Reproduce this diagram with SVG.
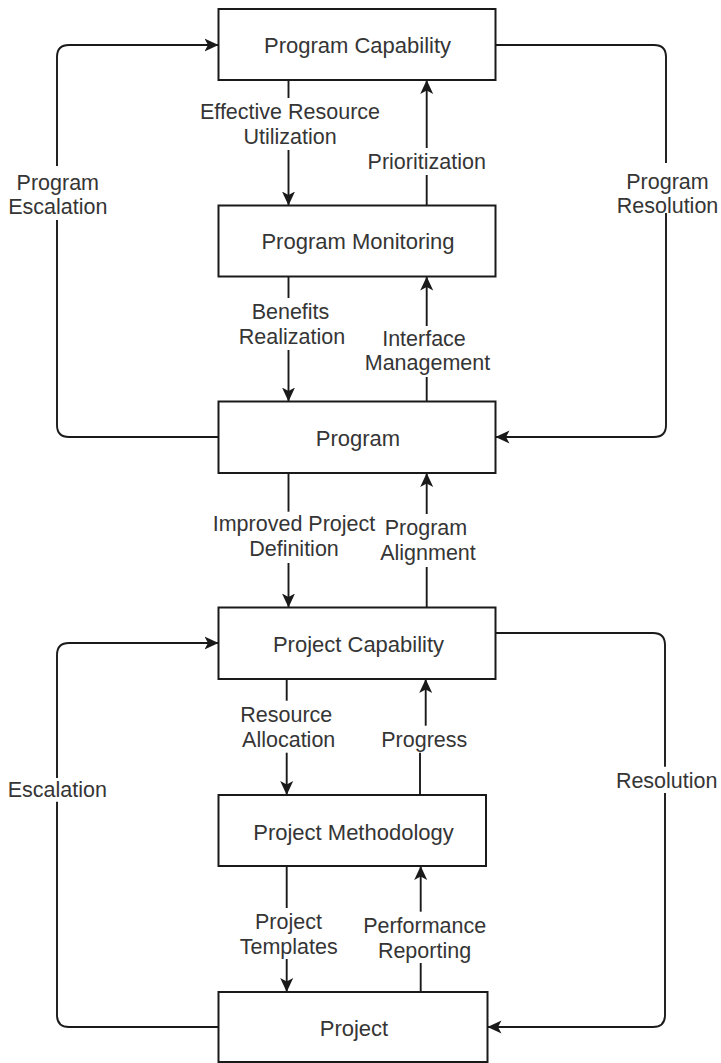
<svg xmlns="http://www.w3.org/2000/svg" width="721" height="1063" viewBox="0 0 721 1063">
  <style>
    .box { fill: #ffffff; stroke: #1a1a1a; stroke-width: 2; }
    .node-text { font-family: "Liberation Sans", Arial, sans-serif; font-size: 22px; fill: #353535; text-anchor: middle; }
    .edge { fill: none; stroke: #1a1a1a; stroke-width: 1.9; }
    .label { font-family: "Liberation Sans", Arial, sans-serif; font-size: 21.5px; fill: #353535; text-anchor: middle; }
  </style>
  <defs>
    <marker id="arrow" markerUnits="userSpaceOnUse" viewBox="0 0 14 14" refX="14" refY="7" markerWidth="14" markerHeight="14" orient="auto">
      <path d="M0,0.5 L14,7 L0,13.5 L3.5,7 Z" fill="#1a1a1a"/>
    </marker>
  </defs>

  <rect width="721" height="1063" fill="#ffffff"/>

  <!-- connectors (segments are broken where their labels sit) -->
  <g id="connectors">
    <!-- Program Capability -> Program Monitoring -->
    <path class="edge" d="M288.5,80 V98"/>
    <path class="edge" d="M288.5,150 V205.5" marker-end="url(#arrow)"/>
    <text class="label" x="290" y="119.3">Effective Resource</text>
    <text class="label" x="290" y="143.8">Utilization</text>

    <!-- Program Monitoring -> Program Capability -->
    <path class="edge" d="M426.7,205.5 V175"/>
    <path class="edge" d="M426.7,148 V80" marker-end="url(#arrow)"/>
    <text class="label" x="426.7" y="169.3">Prioritization</text>

    <!-- Program Monitoring -> Program -->
    <path class="edge" d="M288.5,276.5 V298"/>
    <path class="edge" d="M288.5,350 V401.5" marker-end="url(#arrow)"/>
    <text class="label" x="290.5" y="319.3">Benefits</text>
    <text class="label" x="292" y="344.3">Realization</text>

    <!-- Program -> Program Monitoring -->
    <path class="edge" d="M426.7,401.5 V377"/>
    <path class="edge" d="M426.7,326 V276.5" marker-end="url(#arrow)"/>
    <text class="label" x="424" y="345.6">Interface</text>
    <text class="label" x="427.5" y="370.3">Management</text>

    <!-- Program -> Project Capability -->
    <path class="edge" d="M288.5,473 V511.7"/>
    <path class="edge" d="M288.5,563 V607.5" marker-end="url(#arrow)"/>
    <text class="label" x="294" y="530.6">Improved Project</text>
    <text class="label" x="294" y="555.6">Definition</text>

    <!-- Project Capability -> Program -->
    <path class="edge" d="M426.7,607.5 V567"/>
    <path class="edge" d="M426.7,514 V473" marker-end="url(#arrow)"/>
    <text class="label" x="426" y="534.6">Program</text>
    <text class="label" x="428" y="559.6">Alignment</text>

    <!-- Project Capability -> Project Methodology -->
    <path class="edge" d="M286.7,679 V700.7"/>
    <path class="edge" d="M286.7,752.7 V795" marker-end="url(#arrow)"/>
    <text class="label" x="286.3" y="721.6">Resource</text>
    <text class="label" x="288.7" y="746.6">Allocation</text>

    <!-- Project Methodology -> Project Capability -->
    <path class="edge" d="M420,795 V752.7"/>
    <path class="edge" d="M425.7,725.7 V679" marker-end="url(#arrow)"/>
    <text class="label" x="424.3" y="746.6">Progress</text>

    <!-- Project Methodology -> Project -->
    <path class="edge" d="M286.7,866 V908"/>
    <path class="edge" d="M286.7,959 V992" marker-end="url(#arrow)"/>
    <text class="label" x="288.5" y="928.6">Project</text>
    <text class="label" x="288.7" y="953.6">Templates</text>

    <!-- Project -> Project Methodology -->
    <path class="edge" d="M420.7,992 V963"/>
    <path class="edge" d="M420.7,911.7 V866" marker-end="url(#arrow)"/>
    <text class="label" x="424.7" y="932.6">Performance</text>
    <text class="label" x="424.5" y="957.6">Reporting</text>

    <!-- Program -> Program Capability (escalation loop) -->
    <path class="edge" d="M218.5,437 H69 Q57,437 57,425 V220"/>
    <path class="edge" d="M57,166 V57 Q57,45 69,45 H218.5" marker-end="url(#arrow)"/>
    <text class="label" x="57.8" y="189.5">Program</text>
    <text class="label" x="57.8" y="214">Escalation</text>

    <!-- Program Capability -> Program (resolution loop) -->
    <path class="edge" d="M495.5,45 H654 Q666,45 666,57 V163"/>
    <path class="edge" d="M666,213 V425 Q666,437 654,437 H495.5" marker-end="url(#arrow)"/>
    <text class="label" x="667.5" y="188.5">Program</text>
    <text class="label" x="667.5" y="213">Resolution</text>

    <!-- Project -> Project Capability (escalation loop) -->
    <path class="edge" d="M218.5,1027 H69 Q57,1027 57,1015 V801.7"/>
    <path class="edge" d="M57,778 V655 Q57,643 69,643 H218.5" marker-end="url(#arrow)"/>
    <text class="label" x="57.3" y="796.6">Escalation</text>

    <!-- Project Capability -> Project (resolution loop) -->
    <path class="edge" d="M495.5,633 H653 Q665,633 665,645 V766.7"/>
    <path class="edge" d="M665,793 V1015 Q665,1027 653,1027 H487.5" marker-end="url(#arrow)"/>
    <text class="label" x="666.7" y="787.6">Resolution</text>
  </g>

  <!-- nodes -->
  <g id="program-capability">
    <rect class="box" x="218.5" y="9" width="277" height="71"/>
    <text class="node-text" x="357.5" y="53">Program Capability</text>
  </g>
  <g id="program-monitoring">
    <rect class="box" x="218.5" y="205.5" width="277" height="71"/>
    <text class="node-text" x="358" y="249.3">Program Monitoring</text>
  </g>
  <g id="program">
    <rect class="box" x="218.5" y="401.5" width="277" height="71.5"/>
    <text class="node-text" x="358" y="445.5">Program</text>
  </g>
  <g id="project-capability">
    <rect class="box" x="218.5" y="607.5" width="277" height="71.5"/>
    <text class="node-text" x="358.5" y="651.5">Project Capability</text>
  </g>
  <g id="project-methodology">
    <rect class="box" x="218.5" y="795" width="267.5" height="71"/>
    <text class="node-text" x="353.5" y="840">Project Methodology</text>
  </g>
  <g id="project">
    <rect class="box" x="218.5" y="992" width="269" height="70"/>
    <text class="node-text" x="354" y="1035.5">Project</text>
  </g>
</svg>
